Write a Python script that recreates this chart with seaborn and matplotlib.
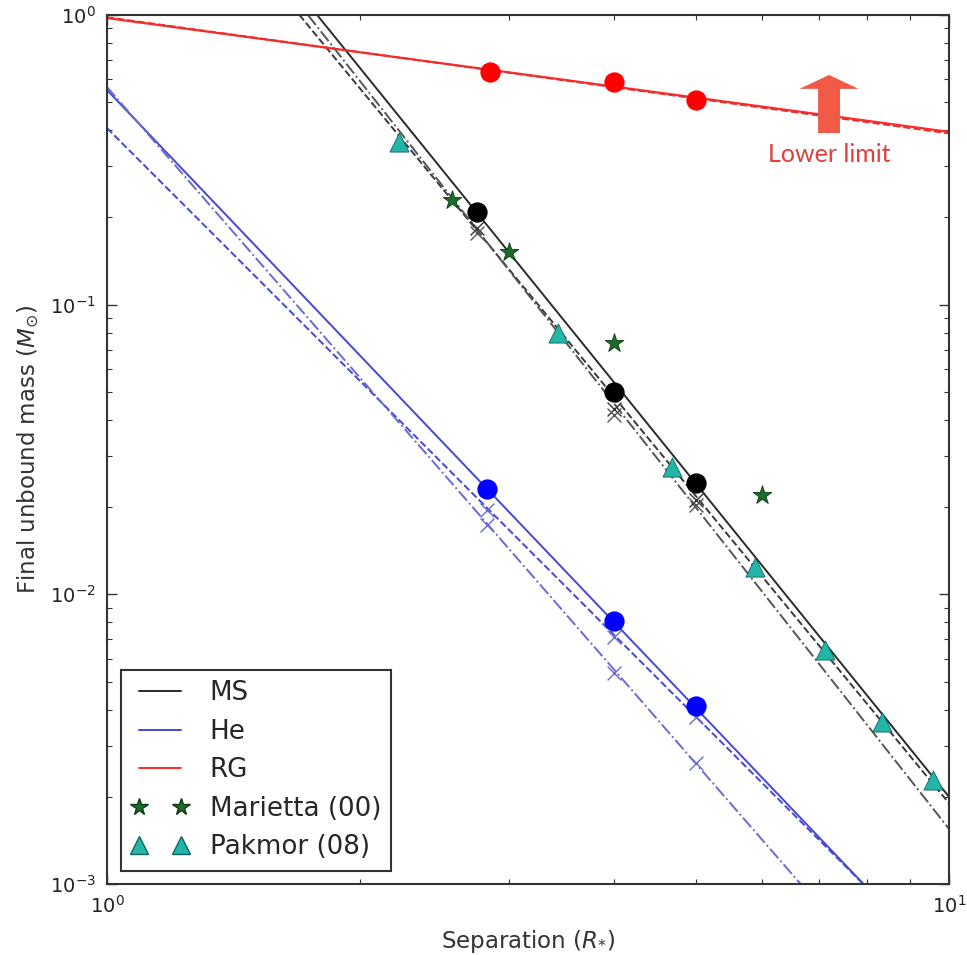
import numpy as np
import pandas as pd
import matplotlib
matplotlib.use("Agg")
import matplotlib.pyplot as plt
import seaborn as sns
from matplotlib.lines import Line2D
from matplotlib.patches import FancyArrow
from matplotlib.ticker import NullFormatter, LogLocator

# ---- fitted power-law lines: values read at x = 1 and x = 10 ----
line_x = [1.0, 10.0]
ms_solid = [7.9, 0.0020]
ms_dashed = [6.4, 0.00190]
ms_dashdot = [7.6, 0.00155]
he_solid = [0.551, 0.00049]
he_dashed = [0.407, 0.000506]
he_dashdot = [0.564, 0.000258]
rg_solid = [0.976, 0.395]
rg_dashed = [0.982, 0.390]

# ---- simulation points ----
ms_x = [2.75, 4.0, 5.0]
ms_circ = [0.209, 0.050, 0.0242]
ms_cross_a = [0.184, 0.0435, 0.0212]
ms_cross_b = [0.177, 0.0415, 0.0204]
he_x = [2.83, 4.0, 5.0]
he_circ = [0.0231, 0.00809, 0.00412]
he_cross_a = [0.01955, 0.00713, 0.00377]
he_cross_b = [0.0174, 0.00535, 0.00262]
rg_x = [2.85, 4.0, 5.0]
rg_circ = [0.636, 0.587, 0.509]

# ---- literature points ----
marietta_x = [2.57, 3.0, 4.0, 6.0]
marietta_y = [0.230, 0.152, 0.0738, 0.0220]
pakmor_x = [2.22, 3.43, 4.69, 5.88, 7.12, 8.32, 9.57]
pakmor_y = [0.364, 0.0798, 0.0275, 0.01244, 0.00643, 0.00363, 0.00229]

legend_labels = ["MS", "He", "RG", "Marietta (00)", "Pakmor (08)"]

sns.set_style("ticks")
plt.rcParams['font.family'] = ['DejaVu Sans']
plt.rcParams['mathtext.fontset'] = 'dejavusans'

W, H = 967, 955
fig = plt.figure(figsize=(W / 100, H / 100), dpi=100)
L, R, T, B = 107, 949, 15, 884
ax = fig.add_axes([L / W, 1 - B / H, (R - L) / W, (B - T) / H])
ax.set_xscale('log')
ax.set_yscale('log')

BLK = '#2a2a2a'
BLU = '#4646d8'
BLU2 = '#6a6ad0'
RED = '#ff2a2a'


def fitline(yv, color, ls, lw=1.4, z=2):
    sns.lineplot(x=line_x, y=yv, color=color, linestyle=ls, linewidth=lw,
                 ax=ax, legend=False, sort=False, estimator=None, zorder=z)


fitline(ms_solid, BLK, '-')
fitline(ms_dashed, '#3a3a3a', '--')
fitline(ms_dashdot, '#555555', '-.')
fitline(he_solid, BLU, '-')
fitline(he_dashed, BLU, '--')
fitline(he_dashdot, BLU2, '-.')
fitline(rg_solid, RED, '-', lw=1.6)
fitline(rg_dashed, '#e83030', '--', lw=1.4)


def pts(xv, yv, marker, color, s, ec='none', lw=0.8, z=4):
    sns.scatterplot(x=xv, y=yv, marker=marker, color=color, s=s, edgecolor=ec,
                    linewidth=lw, ax=ax, legend=False, zorder=z)


pts(ms_x, ms_cross_a, 'x', '#333333', 100, lw=1.0, z=3)
pts(ms_x, ms_cross_b, 'x', '#555555', 100, lw=1.0, z=3)
pts(he_x, he_cross_a, 'x', BLU2, 100, lw=1.0, z=3)
pts(he_x, he_cross_b, 'x', BLU2, 100, lw=1.0, z=3)
pts(rg_x, rg_circ, 'x', RED, 100, lw=1.0, z=3)

pts(ms_x, ms_circ, 'o', 'black', 190, ec='black')
pts(he_x, he_circ, 'o', '#0000ff', 190, ec='#0000ff')
pts(rg_x, rg_circ, 'o', '#ff0000', 190, ec='#ff0000')

pts(marietta_x, marietta_y, '*', '#1c6b2a', 200, ec='#0d3d12', lw=0.6, z=5)
pts(pakmor_x, pakmor_y, '^', '#22b5a8', 190, ec='#116660', lw=0.6, z=5)

ax.set_xlim(1, 10)
ax.set_ylim(1e-3, 1)

# arrow + annotation
ax.add_patch(FancyArrow(0.8575, 0.8642, 0, 0.0668, width=0.026, head_width=0.070,
                        head_length=0.016, length_includes_head=True,
                        transform=ax.transAxes, color='#f25a48', lw=0, zorder=6))
ax.text(0.8575, 0.839, "Lower limit", transform=ax.transAxes, ha='center', va='center',
        color='#e0403c', fontsize=18, family=['Lato', 'DejaVu Sans'])

# axes styling
for sp in ax.spines.values():
    sp.set_color('#333333')
    sp.set_linewidth(1.5)
ax.tick_params(which='both', direction='in', top=True, right=True, colors='#333333',
               labelcolor='#222222')
ax.tick_params(which='major', length=7, width=1.0, labelsize=14, pad=8)
ax.tick_params(which='minor', length=3.5, width=0.8)
ax.xaxis.set_minor_formatter(NullFormatter())
ax.yaxis.set_minor_formatter(NullFormatter())
ax.yaxis.set_major_locator(LogLocator(base=10, numticks=10))
ax.yaxis.set_minor_locator(LogLocator(base=10, subs=np.arange(2, 10), numticks=20))

ax.set_xlabel(r"Separation ($R_{*}$)", fontsize=16.5, color='#333333', labelpad=8)
ax.set_ylabel(r"Final unbound mass ($M_{\odot}$)", fontsize=16.5, color='#333333', labelpad=6)

handles = [
    Line2D([], [], color=BLK, lw=1.4),
    Line2D([], [], color=BLU, lw=1.4),
    Line2D([], [], color=RED, lw=1.4),
    Line2D([], [], ls='none', marker='*', color='#1c6b2a', mec='#0d3d12', ms=13),
    Line2D([], [], ls='none', marker='^', color='#22b5a8', mec='#116660', ms=13),
]
leg = ax.legend(handles, legend_labels, loc='lower left', bbox_to_anchor=(0.0163, 0.0153),
                borderaxespad=0, numpoints=2, fontsize=18.8, fancybox=False, framealpha=1,
                edgecolor='#333333', labelspacing=0.48, handlelength=2.2, handletextpad=0.8,
                borderpad=0.4)
leg.get_frame().set_linewidth(1.5)

fig.savefig("out.png", dpi=100, facecolor='white')
